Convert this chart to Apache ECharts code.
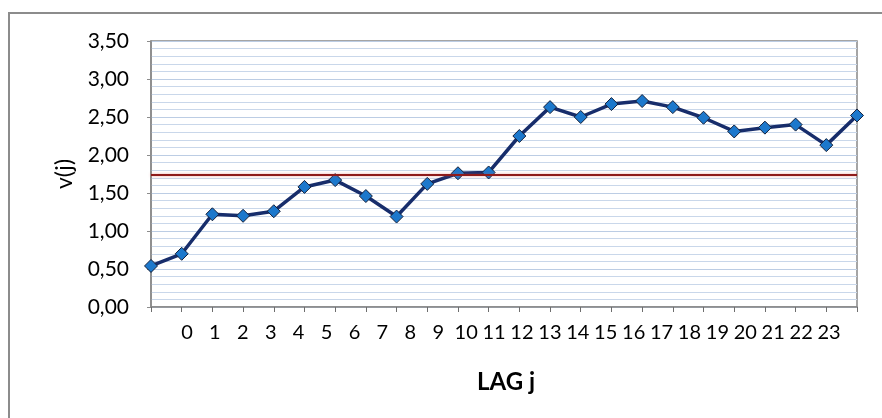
<!DOCTYPE html>
<html>
<head>
<meta charset="utf-8">
<script src="https://cdn.jsdelivr.net/npm/echarts@6/dist/echarts.min.js"></script>
<style>
html,body{margin:0;padding:0;background:#fff;}
#c{width:882px;height:418px;}
</style>
</head>
<body>
<div id="c"></div>
<script>
// ---- data ----
var lagLabels = ['0','1','2','3','4','5','6','7','8','9','10','11','12','13','14','15','16','17','18','19','20','21','22','23'];
var vValues = [0.54, 0.70, 1.22, 1.20, 1.26, 1.58, 1.67, 1.46, 1.19, 1.62, 1.76, 1.77, 2.25, 2.63, 2.50, 2.67, 2.71, 2.63, 2.49, 2.31, 2.36, 2.40, 2.13, 2.52];
var thresholdValue = 1.74;
var yTicks = [0, 0.5, 1, 1.5, 2, 2.5, 3, 3.5];
var xAxisTitle = 'LAG j';
var yAxisTitle = 'v(j)';

var pointCats = vValues.map(function(_, i){ return String(i); });
var FONT = 'Lato, "Open Sans", sans-serif';

var chart = echarts.init(document.getElementById('c'), null, {renderer:'canvas'});
chart.setOption({
  animation: false,
  backgroundColor: '#ffffff',
  graphic: [
    { type: 'rect', shape: {x: 9, y: 13, width: 900, height: 430}, style: {fill: 'none', stroke: '#8c8c8c', lineWidth: 2}, silent: true, z: 0 },
    { type: 'text', x: 506, y: 382, style: {text: xAxisTitle, font: 'bold 24px ' + FONT, fill: '#000', textAlign: 'center', textVerticalAlign: 'middle'} },
    { type: 'text', x: 65, y: 174, rotation: Math.PI/2, style: {text: yAxisTitle, font: '23px ' + FONT, fill: '#000', textAlign: 'center', textVerticalAlign: 'middle'} }
  ],
  grid: [
    { left: 151, top: 41, width: 706, height: 266, show: true, borderColor: '#888888', borderWidth: 1.5, backgroundColor: 'transparent' },
    { left: 173, top: 41, width: 670, height: 266, show: false }
  ],
  xAxis: [
    { type: 'category', gridIndex: 0, data: pointCats, boundaryGap: false,
      axisLine: {show: true, lineStyle: {color: '#888888', width: 1.5}},
      axisTick: {show: true, length: 5, lineStyle: {color: '#6e6e6e'}},
      axisLabel: {show: false}, splitLine: {show: false} },
    { type: 'category', gridIndex: 1, data: lagLabels, boundaryGap: true,
      axisLine: {show: false}, axisTick: {show: false},
      axisLabel: {show: true, margin: 16, fontSize: 20, fontFamily: FONT, color: '#000', interval: 0},
      splitLine: {show: false} }
  ],
  yAxis: [
    { type: 'value', gridIndex: 0, min: yTicks[0], max: yTicks[yTicks.length-1], interval: 0.5,
      axisLine: {show: true, lineStyle: {color: '#888888', width: 1.5}},
      axisTick: {show: true, length: 4, lineStyle: {color: '#8c8c8c'}},
      axisLabel: {margin: 22, fontSize: 21, fontFamily: FONT, color: '#000',
        formatter: function(v){ return v.toFixed(2).replace('.', ','); }},
      splitLine: {show: true, lineStyle: {color: '#bccde4', width: 1}},
      minorTick: {show: false, splitNumber: 5},
      minorSplitLine: {show: true, lineStyle: {color: '#c9d7ea', width: 1}} },
    { type: 'value', gridIndex: 1, min: 0, max: 3.5, show: false }
  ],
  series: [
    { type: 'line', xAxisIndex: 0, yAxisIndex: 0, data: vValues,
      symbol: 'diamond', symbolSize: 13,
      lineStyle: {color: '#172d6b', width: 3.5},
      itemStyle: {color: '#1c78cc', borderColor: '#15203a', borderWidth: 1},
      markLine: { silent: true, symbol: ['none','none'], label: {show: false},
        lineStyle: {color: '#8e1b1b', width: 2.2, type: 'solid', shadowColor: 'rgba(220,80,80,0.5)', shadowBlur: 3},
        data: [{yAxis: thresholdValue}] },
      z: 3 }
  ]
});
</script>
</body>
</html>
